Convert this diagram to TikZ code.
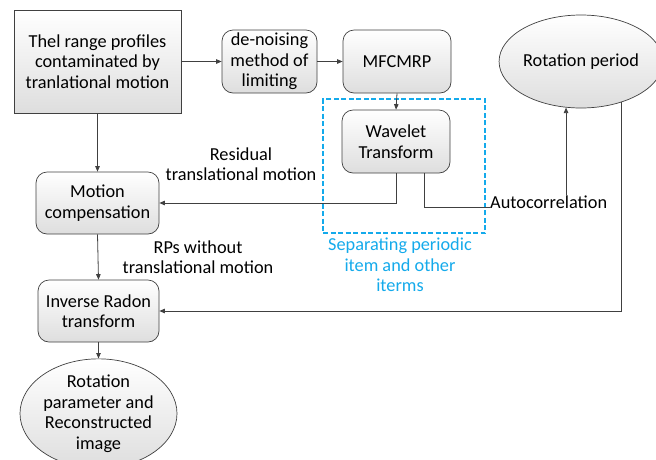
\documentclass[tikz,border=0pt]{standalone}
\usepackage{fontspec}
\setmainfont{Carlito}
\usetikzlibrary{shapes.geometric,arrows.meta,calc}
\definecolor{ln}{HTML}{404040}
\definecolor{cyn}{RGB}{20,170,235}
\begin{document}
\begin{tikzpicture}[x=1pt,y=-1pt,
  font=\fontsize{18.3}{20.5}\selectfont,
  base/.style={draw=ln,line width=0.7pt,top color=white,bottom color=black!13,align=center,inner sep=0pt},
  sqbox/.style={base,rectangle},
  rbox/.style={base,rectangle,rounded corners=11pt},
  ell/.style={base,ellipse},
  conn/.style={draw=ln,line width=0.8pt},
  arr/.style={conn,-{Triangle[length=5.5pt,width=4.5pt]}},
  grpbox/.style={draw=cyn,color=cyn,dash pattern=on 5pt off 2.5pt,line width=1.1pt,minimum width=162,minimum height=134,inner sep=0pt},
  lbl/.style={align=center,inner sep=0pt}]
\useasboundingbox (0,0) rectangle (656,459);
\node[sqbox,minimum width=167,minimum height=103] (src) at (97.5,61.5) {Thel range profiles\\contaminated by\\tranlational motion};
\node[rbox,minimum width=95,minimum height=63] (den) at (269.5,61.5) {de-noising\\method of\\limiting};
\node[rbox,minimum width=108,minimum height=63] (mfc) at (397,61.5) {MFCMRP};
\node[grpbox] (grp) at (404,166) {};
\node[rbox,minimum width=108,minimum height=63] (wav) at (396,141.5) {Wavelet\\Transform};
\node[ell,minimum width=150,minimum height=93] (rp) at (581,61.5) {Rotation period};
\node[rbox,minimum width=123,minimum height=62] (mc) at (97.5,203) {Motion\\compensation};
\node[rbox,minimum width=121,minimum height=62] (inv) at (98.5,311) {Inverse Radon\\transform};
\node[ell,minimum width=157,minimum height=90] (out) at (98.5,413.5) {Rotation\\parameter and\\Reconstructed\\image};
\node[lbl,anchor=west] (auto) at (490,202) {Autocorrelation};
\node[lbl] (res) at (241,164) {Residual\\translational motion};
\node[lbl] (rps) at (198,257) {RPs without\\translational motion};
\node[lbl,text=cyn] (sep) at (400,265) {Separating periodic\\item and other\\iterms};
\coordinate (a1) at (auto.north -| rp.252);
\coordinate (w2) at ($(wav.south)+(28,0)$);
\coordinate (a2) at ($(auto.west)+(0,5)$);
\draw[arr] (src.east) -- (den.west);
\draw[arr] (den.east) -- (mfc.west);
\draw[arr] (mfc.south) -- (wav.north);
\draw[arr] (src.south) -- (mc.north);
\draw[arr] (wav.south) |- (mc.east);
\draw[conn] (w2) |- (a2);
\draw[arr] (a1) -- (rp.252);
\draw[arr] (rp.-45.5) |- (inv.east);
\draw[arr] (mc.south) -- (inv.north);
\draw[arr] (inv.south) -- (out.north);
\end{tikzpicture}
\end{document}
